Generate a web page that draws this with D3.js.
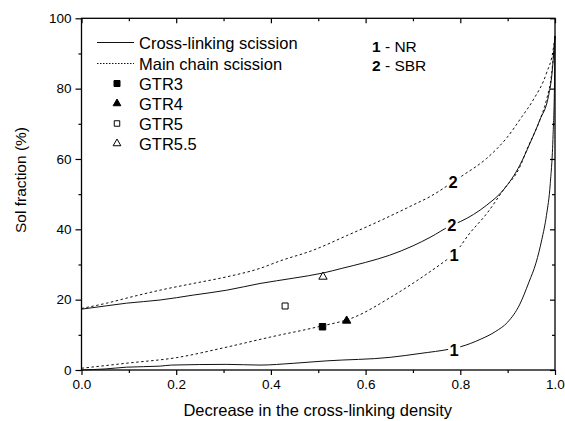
<!DOCTYPE html>
<html><head><meta charset="utf-8">
<script src="https://cdn.jsdelivr.net/npm/d3@7"></script>
<style>
html,body{margin:0;padding:0;background:#fff;}
svg text{font-family:"Liberation Sans",Arial,sans-serif;fill:#000;}
</style></head>
<body><svg id="c" width="565" height="421"></svg>
<script>
// ---- data ----
const crossNR_x = [0, 0.05, 0.095, 0.166, 0.19, 0.307, 0.377, 0.447, 0.518, 0.652, 0.715, 0.78, 0.8, 0.842, 0.875, 0.9, 0.925, 0.945, 0.96, 0.972, 0.982, 0.99, 0.996, 0.999, 1.0];
const crossNR_y = [0, 0.3, 0.8, 1.1, 1.4, 1.6, 1.4, 1.9, 2.6, 3.6, 4.7, 6.0, 6.6, 8.7, 11.0, 13.6, 18.5, 25.0, 30.5, 37.0, 44.0, 53.0, 67.0, 82, 95];
const mainNR_x = [0, 0.1, 0.2, 0.3, 0.4, 0.5, 0.574, 0.652, 0.715, 0.771, 0.785, 0.82, 0.856, 0.891, 0.926, 0.94, 0.968, 0.982, 0.993, 1.0];
const mainNR_y = [0.5, 2.0, 3.5, 6.3, 9.4, 12.3, 14.9, 20.6, 26.0, 31.3, 32.7, 38.9, 44.5, 51.2, 57.8, 62.5, 71.1, 76.8, 84.4, 95];
const crossSBR_x = [0, 0.05, 0.095, 0.166, 0.236, 0.307, 0.377, 0.447, 0.511, 0.55, 0.6, 0.65, 0.7, 0.736, 0.782, 0.8, 0.856, 0.891, 0.926, 0.947, 0.968, 0.986, 0.993, 1.0];
const crossSBR_y = [17.3, 18.2, 19.0, 19.9, 21.3, 22.7, 24.6, 26.1, 27.6, 28.9, 30.6, 32.6, 35.3, 37.7, 41.2, 42.2, 46.9, 51.2, 58.3, 64.4, 71.1, 77.7, 83.4, 95];
const mainSBR_x = [0, 0.053, 0.1, 0.166, 0.236, 0.307, 0.377, 0.419, 0.49, 0.56, 0.63, 0.70, 0.736, 0.785, 0.806, 0.856, 0.898, 0.93, 0.954, 0.982, 0.996, 1.0];
const mainSBR_y = [17.5, 19.0, 20.6, 22.7, 24.6, 26.5, 28.9, 31.0, 34.1, 38.2, 42.4, 46.9, 49.3, 53.5, 55.4, 60.2, 66.0, 72.0, 76.8, 84.4, 91, 95];

const sampleNames = ["GTR3", "GTR4", "GTR5", "GTR5.5"];
const sampleX = [0.509, 0.56, 0.43, 0.51];
const sampleY = [12.3, 14.0, 18.2, 26.5];

const curveLabels = ["2", "2", "1", "1"];
const curveLabelX = [0.785, 0.782, 0.787, 0.787];
const curveLabelY = [53.5, 41.2, 32.7, 5.7];

const xTicks = [0, 0.2, 0.4, 0.6, 0.8, 1.0];
const xMinor = [0.1, 0.3, 0.5, 0.7, 0.9];
const yTicks = [0, 20, 40, 60, 80, 100];
const yMinor = [10, 30, 50, 70, 90];

// ---- layout ----
const L = 81.5, R = 555, T = 18.3, B = 370;
const svg = d3.select("#c");
const x = d3.scaleLinear().domain([0, 1]).range([L, R]);
const y = d3.scaleLinear().domain([0, 100]).range([B, T]);

const zip = (xs, ys) => xs.map((v, i) => [v, ys[i]]);
const line = d3.line().x(d => x(d[0])).y(d => y(d[1])).curve(d3.curveMonotoneX);

const series = [
  {xs: crossNR_x, ys: crossNR_y, dash: null},
  {xs: mainNR_x, ys: mainNR_y, dash: "2.5,2.5"},
  {xs: crossSBR_x, ys: crossSBR_y, dash: null},
  {xs: mainSBR_x, ys: mainSBR_y, dash: "2.5,2.5"}
];
const gLines = svg.append("g");
series.forEach(s => {
  gLines.append("path").attr("d", line(zip(s.xs, s.ys)))
    .attr("fill", "none").attr("stroke", "#111").attr("stroke-width", 1)
    .attr("stroke-dasharray", s.dash);
});

// curve labels with white background
const gLab = svg.append("g");
curveLabels.forEach((t, i) => {
  gLab.append("rect").attr("x", x(curveLabelX[i]) - 6).attr("y", y(curveLabelY[i]) - 8)
    .attr("width", 12).attr("height", 16).attr("fill", "#fff");
  gLab.append("text").attr("x", x(curveLabelX[i])).attr("y", y(curveLabelY[i]) + 6)
    .attr("text-anchor", "middle").attr("font-size", 16.5).attr("font-weight", "bold").text(t);
});

// markers
const symTypes = [d3.symbolSquare, d3.symbolTriangle, d3.symbolSquare, d3.symbolTriangle];
const symFill = ["#000", "#000", "#fff", "#fff"];
const symSize = [42, 30, 36, 30];
const gPts = svg.append("g");
sampleNames.forEach((n, i) => {
  gPts.append("path").attr("d", d3.symbol().type(symTypes[i]).size(symSize[i])())
    .attr("transform", `translate(${x(sampleX[i])},${y(sampleY[i])})`)
    .attr("fill", symFill[i]).attr("stroke", "#000").attr("stroke-width", 1);
});

// axes
const fs = 13.5;
svg.append("g").attr("transform", `translate(0,${B})`)
  .call(d3.axisBottom(x).tickValues(xTicks).tickSize(5).tickPadding(4).tickFormat(d3.format(".1f")));
svg.append("g").attr("transform", `translate(0,${B})`)
  .call(d3.axisBottom(x).tickValues(xMinor).tickSize(3).tickFormat(""));
svg.append("g").attr("transform", `translate(${L},0)`)
  .call(d3.axisLeft(y).tickValues(yTicks).tickSize(6).tickPadding(4));
svg.append("g").attr("transform", `translate(${L},0)`)
  .call(d3.axisLeft(y).tickValues(yMinor).tickSize(3).tickFormat(""));
svg.append("g").attr("transform", `translate(0,${T})`)
  .call(d3.axisBottom(x).tickValues(xTicks).tickSize(5).tickFormat(""));
svg.append("g").attr("transform", `translate(0,${T})`)
  .call(d3.axisBottom(x).tickValues(xMinor).tickSize(3).tickFormat(""));
svg.append("g").attr("transform", `translate(${R},0)`)
  .call(d3.axisLeft(y).tickValues(yTicks).tickSize(5).tickFormat(""));
svg.append("g").attr("transform", `translate(${R},0)`)
  .call(d3.axisLeft(y).tickValues(yMinor).tickSize(3).tickFormat(""));
svg.selectAll(".domain").remove();
svg.selectAll(".tick line").attr("stroke", "#000").attr("stroke-width", 1.2);
svg.selectAll(".tick text").attr("font-size", fs).attr("font-family", "Liberation Sans, Arial, sans-serif").attr("fill", "#000");

// frame
svg.append("rect").attr("x", L).attr("y", T).attr("width", R - L).attr("height", B - T)
  .attr("fill", "none").attr("stroke", "#000").attr("stroke-width", 1.3);

// axis titles
svg.append("text").attr("x", (L + R) / 2 - 0.5).attr("y", 416).attr("text-anchor", "middle")
  .attr("font-size", 16.5).text("Decrease in the cross-linking density");
svg.append("text").attr("transform", "translate(26,180) rotate(-90)").attr("text-anchor", "middle")
  .attr("font-size", 15.5).text("Sol fraction (%)");

// legend
const lg = svg.append("g");
const legFs = 16.5;
lg.append("line").attr("x1", 97).attr("x2", 134).attr("y1", 42.5).attr("y2", 42.5)
  .attr("stroke", "#111").attr("stroke-width", 1);
lg.append("text").attr("x", 139).attr("y", 49).attr("font-size", legFs).text("Cross-linking scission");
lg.append("line").attr("x1", 97).attr("x2", 134).attr("y1", 63.5).attr("y2", 63.5)
  .attr("stroke", "#111").attr("stroke-width", 1).attr("stroke-dasharray", "1.5,1.5");
lg.append("text").attr("x", 139).attr("y", 69.5).attr("font-size", legFs).text("Main chain scission");
const legSym = [36, 26, 30, 26];
sampleNames.forEach((n, i) => {
  const yy = 83.5 + i * 20;
  lg.append("path").attr("d", d3.symbol().type(symTypes[i]).size(legSym[i])())
    .attr("transform", `translate(117,${yy})`)
    .attr("fill", symFill[i]).attr("stroke", "#000").attr("stroke-width", 1);
  lg.append("text").attr("x", 139).attr("y", yy + 6).attr("font-size", legFs).text(n);
});
const polyNames = ["NR", "SBR"];
polyNames.forEach((p, i) => {
  const t = lg.append("text").attr("x", 372).attr("y", 51.5 + i * 19.5).attr("font-size", 15.5);
  t.append("tspan").attr("font-weight", "bold").text(String(i + 1));
  t.append("tspan").text(" - " + p);
});
</script></body></html>
